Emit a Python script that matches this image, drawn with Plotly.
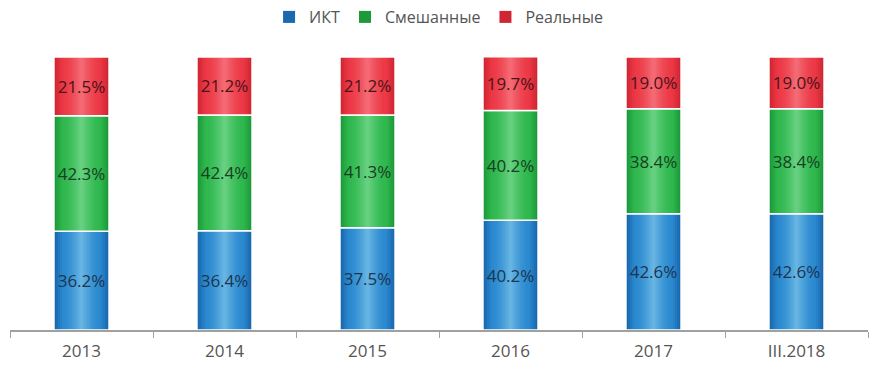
import plotly.graph_objects as go

categories = ["2013", "2014", "2015", "2016", "2017", "III.2018"]
ikt = [36.2, 36.4, 37.5, 40.2, 42.6, 42.6]
mixed = [42.3, 42.4, 41.3, 40.2, 38.4, 38.4]
real = [21.5, 21.2, 21.2, 19.7, 19.0, 19.0]

# style: (edge, mid, center) colours for cylinder-like shading, label colour
series = [
    ("ИКТ", ikt, ("#1a68ae", "#2a89cf", "#66b4e2"), "#1c3550"),
    ("Смешанные", mixed, ("#1c9a3a", "#2fb84e", "#66d080"), "#173f22"),
    ("Реальные", real, ("#d02632", "#ec3846", "#f46a74"), "#4a1419"),
]
BAR_W = 0.385
N_LAYERS = 14


def hex2rgb(h):
    h = h.lstrip("#")
    return [int(h[i:i + 2], 16) for i in (0, 2, 4)]


def mix(a, b, t):
    ra, rb = hex2rgb(a), hex2rgb(b)
    return "rgb(%d,%d,%d)" % tuple(round(x + (y - x) * t) for x, y in zip(ra, rb))


def shade(edge, mid, center, t):
    if t < 0.3:
        return mix(edge, mid, t / 0.3)
    return mix(mid, center, ((t - 0.3) / 0.7) ** 1.6)


fig = go.Figure()
bases = [0.0] * len(categories)
for name, vals, (edge, mid, center), tcol in series:
    for i in range(N_LAYERS):
        t = i / (N_LAYERS - 1)
        w = BAR_W * (1 - 0.93 * t)
        fig.add_trace(go.Bar(
            x=categories, y=vals, base=bases, width=w, name=name,
            marker=dict(color=shade(edge, mid, center, t), line=dict(width=0)),
            showlegend=(i == 0), legendgroup=name, hoverinfo="skip",
        ))
    fig.add_trace(go.Bar(
        x=categories, y=vals, base=bases, width=BAR_W, name=name,
        marker=dict(color="rgba(0,0,0,0)", line=dict(color="white", width=1.5)),
        showlegend=False, legendgroup=name,
        texttemplate="%{y:.1f}%", textposition="inside", insidetextanchor="middle",
        textfont=dict(size=17, color=tcol, family="Open Sans"),
    ))
    bases = [b + v for b, v in zip(bases, vals)]

fig.update_layout(
    width=886, height=369,
    barmode="overlay",
    margin=dict(l=10, r=18, t=57, b=39, autoexpand=False),
    plot_bgcolor="white", paper_bgcolor="white",
    font=dict(family="Open Sans", size=16, color="#555555"),
    legend=dict(orientation="h", x=0.495, xanchor="center", xref="container",
                y=1 - 17 / 369, yanchor="middle", yref="container",
                font=dict(size=16, color="#555555"), itemwidth=30),
    xaxis=dict(showline=True, linecolor="#a0a0a0", linewidth=1.5,
               ticks="outside", tickson="boundaries", ticklen=6, tickcolor="#a0a0a0",
               ticklabelstandoff=5, automargin=False,
               showgrid=False, tickfont=dict(size=17, color="#555555")),
    yaxis=dict(range=[0, 100], visible=False, showgrid=False),
    uniformtext=dict(mode="show", minsize=10),
)

fig.write_html("out.html", config={"displayModeBar": False},
               post_script="document.body.style.margin='0';")
